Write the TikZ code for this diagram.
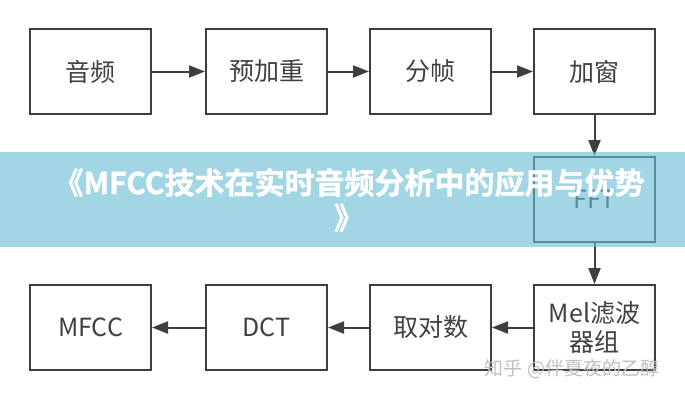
\documentclass[tikz,border=0pt]{standalone}
\usepackage{fontspec}
\setmainfont{Noto Sans CJK SC}
\newfontfamily\cjkbold[FakeBold=1.2]{Noto Sans CJK SC Bold}
\usetikzlibrary{arrows.meta}
\definecolor{linec}{RGB}{62,62,62}
\definecolor{textc}{RGB}{64,64,64}
\definecolor{bannerc}{RGB}{107,189,213}
\definecolor{wmc}{RGB}{192,192,192}
\tikzset{
  stepbox/.style={draw=linec, line width=2pt, fill=white, minimum width=121pt, minimum height=85pt,
    text=textc, font=\fontsize{25}{29}\selectfont, align=center, inner sep=0pt},
  flow/.style={draw=linec, line width=2pt, -{Triangle[length=16pt,width=12pt]}}
}
\begin{document}
\begin{tikzpicture}[x=1pt,y=-1pt]
\useasboundingbox (0,0) rectangle (685,400);
\fill[white] (0,0) rectangle (685,400);
\node[stepbox] (audio) at (90.5,71.5) {音频};
\node[stepbox] (pre) at (266.5,71.5) {预加重};
\node[stepbox] (frame) at (430.5,71.5) {分帧};
\node[stepbox] (win) at (594.5,71.5) {加窗};
\node[stepbox] (fft) at (594.5,199.5) {FFT};
\node[stepbox] (mel) at (594.5,327.5) {Mel滤波\\器组};
\node[stepbox] (log) at (430.5,327.5) {取对数};
\node[stepbox] (dct) at (266.5,327.5) {DCT};
\node[stepbox] (mfcc) at (90.5,327.5) {MFCC};
\draw[flow] (audio) -- (pre);
\draw[flow] (pre) -- (frame);
\draw[flow] (frame) -- (win);
\draw[flow] (win) -- (fft);
\draw[flow] (fft) -- (mel);
\draw[flow] (mel) -- (log);
\draw[flow] (log) -- (dct);
\draw[flow] (dct) -- (mfcc);
\fill[bannerc, fill opacity=0.62] (0,152) rectangle (685,247);
\node[text=white, font=\cjkbold\fontsize{30}{35}\selectfont, align=center, inner sep=0pt] (title) at (349,200) {《MFCC技术在实时音频分析中的应用与优势\\》};
\node[text=wmc, font=\fontsize{19}{19}\selectfont, inner sep=0pt] (wm) at (572,369) {知乎 @伴夏夜的乙醇};
\end{tikzpicture}
\end{document}
